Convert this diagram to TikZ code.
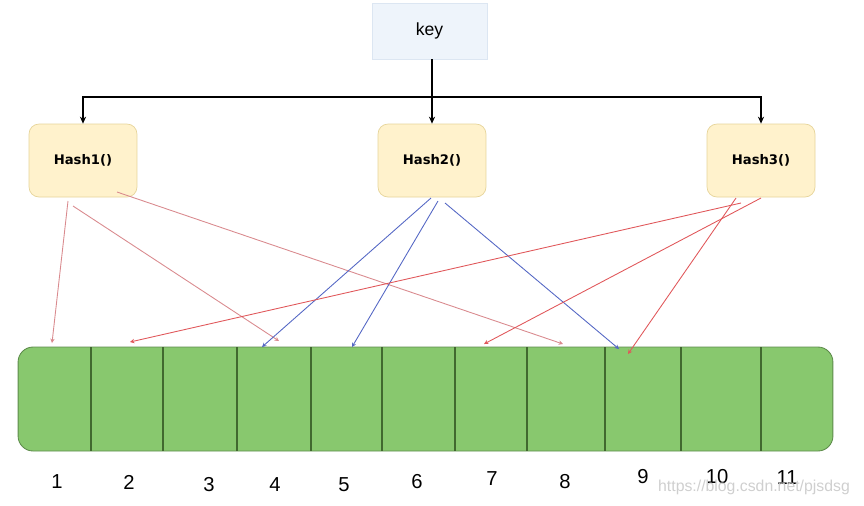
\documentclass[tikz,border=0pt]{standalone}
\usepackage{fontspec}
\setmainfont{Liberation Sans}
\newfontfamily\hashfont{DejaVu Sans}
\usetikzlibrary{arrows.meta}
\definecolor{keyfill}{HTML}{EEF4FB}
\definecolor{keyline}{HTML}{DCE6F2}
\definecolor{hashfill}{HTML}{FFF2CC}
\definecolor{hashline}{HTML}{E6D49A}
\definecolor{arrfill}{HTML}{88C86E}
\definecolor{arrline}{HTML}{5E8C4C}
\definecolor{divline}{HTML}{41692F}
\definecolor{pinkred}{HTML}{D98A8E}
\definecolor{hotred}{HTML}{E0575A}
\definecolor{bluel}{HTML}{5467C4}
\definecolor{wm}{HTML}{CFCFCF}
\tikzset{
  keybox/.style={draw=keyline,fill=keyfill,minimum width=2.3cm,minimum height=1.12cm,font=\fontsize{10}{12}\selectfont},
  hashbox/.style={draw=hashline,fill=hashfill,rounded corners=0.2cm,minimum width=2.16cm,minimum height=1.46cm,font=\hashfont\bfseries\fontsize{7.5}{9}\selectfont},
  arrbox/.style={draw=arrline,fill=arrfill,rounded corners=0.3cm,minimum width=16.3cm,minimum height=2.08cm,line width=0.5pt},
  divider/.style={draw=divline,line width=0.6pt},
  tree/.style={draw=black,line width=0.6pt,-{Stealth[length=4pt,width=3.5pt]}},
  hl1/.style={draw=pinkred,line width=0.5pt,-{Stealth[length=2.5pt,width=2.5pt]}},
  hl2/.style={draw=bluel,line width=0.5pt,-{Stealth[length=2.5pt,width=2.5pt]}},
  hl3/.style={draw=hotred,line width=0.5pt,-{Stealth[length=2.5pt,width=2.5pt]}},
  num/.style={font=\fontsize{11.5}{13}\selectfont},
  wmark/.style={text=wm,font=\fontsize{9}{11}\selectfont,anchor=east}
}
\begin{document}
\begin{tikzpicture}[x=0.02cm,y=-0.02cm]
\useasboundingbox (0,0) rectangle (864,505);
% nodes
\node[keybox] (key) at (429.5,31) {key};
\node[hashbox] (h1) at (83,160.5) {Hash1()};
\node[hashbox] (h2) at (432,160.5) {Hash2()};
\node[hashbox] (h3) at (761,160.5) {Hash3()};
\node[arrbox] (arr) at (425.5,399) {};
% dividers
\foreach \x in {91,163,237,311,382,455,527,605,681,761}
  \draw[divider] (\x,347) -- (\x,451);
% numbers
\node[num] (n1) at (57,482) {1};
\node[num] (n2) at (129,482) {2};
\node[num] (n3) at (209,485) {3};
\node[num] (n4) at (275,485) {4};
\node[num] (n5) at (344,485) {5};
\node[num] (n6) at (417,482) {6};
\node[num] (n7) at (492,479) {7};
\node[num] (n8) at (565,482) {8};
\node[num] (n9) at (643,477) {9};
\node[num] (n10) at (717,477) {10};
\node[num] (n11) at (787,478) {11};
% tree connectors
\coordinate (j) at (432,97);
\draw[tree] (key.south -| h2.north) -- (h2.north);
\draw[tree] (j) -| (h1.north);
\draw[tree] (j) -| (h3.north);
% start points
\coordinate (a1) at (68,201);
\coordinate (a2) at (73,206);
\coordinate (a3) at (117,192);
\coordinate (b1) at (431,198);
\coordinate (b2) at (438,201);
\coordinate (b3) at (445,203);
\coordinate (c1) at (741,203);
\coordinate (c2) at (761,198);
\coordinate (c3) at (736,198);
% end points
\coordinate (e1) at (52,343);
\coordinate (e2) at (130,342);
\coordinate (e4r) at (279,341);
\coordinate (e4b) at (262,347);
\coordinate (e5) at (352,347);
\coordinate (e7) at (484,344);
\coordinate (e8) at (563,344);
\coordinate (e9b) at (619,349);
\coordinate (e9r) at (628,354);
% hash connectors
\draw[hl1] (a1) -- (e1);
\draw[hl1] (a2) -- (e4r);
\draw[hl1] (a3) -- (e8);
\draw[hl2] (b1) -- (e4b);
\draw[hl2] (b2) -- (e5);
\draw[hl2] (b3) -- (e9b);
\draw[hl3] (c1) -- (e2);
\draw[hl3] (c2) -- (e7);
\draw[hl3] (c3) -- (e9r);
% watermark
\node[wmark] (wmk) at (856,487) {https://blog.csdn.net/pjsdsg};
\end{tikzpicture}
\end{document}
